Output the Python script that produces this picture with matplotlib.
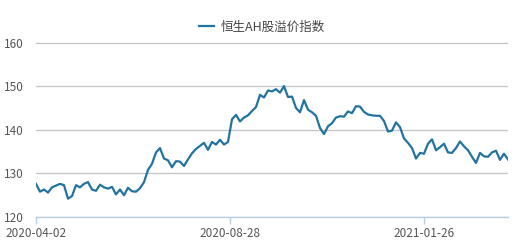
import numpy as np
import matplotlib
matplotlib.use("Agg")
import matplotlib.pyplot as plt

plt.rcParams['font.family'] = ['Noto Sans CJK SC', 'DejaVu Sans']

SERIES_NAME = "恒生AH股溢价指数"
TICK_LABELS = ["2020-04-02", "2020-08-28", "2021-01-26"]
TICK_DAYS = [0, 97, 194]
DAYS_PER_POINT = 2

# index readings, one every second trading day from 2020-04-02
premium = [
    127.6, 125.8, 126.3, 125.6, 126.8, 127.2, 127.6, 127.3, 124.2, 124.8,
    127.3, 126.8, 127.6, 128.0, 126.3, 126.0, 127.4, 126.8, 126.5, 126.9,
    125.2, 126.3, 125.0, 126.7, 125.9, 125.8, 126.6, 128.0, 130.8, 132.2,
    134.8, 135.8, 133.4, 133.0, 131.4, 132.8, 132.7, 131.7, 133.2, 134.6,
    135.6, 136.3, 137.0, 135.4, 137.2, 136.6, 137.7, 136.6, 137.2, 142.4,
    143.4, 141.9, 142.8, 143.3, 144.3, 145.2, 148.0, 147.4, 149.0, 148.8,
    149.3, 148.5, 150.0, 147.5, 147.6, 145.0, 144.0, 146.8, 144.6, 144.0,
    143.2, 140.4, 139.0, 140.8, 141.5, 142.8, 143.1, 143.0, 144.2, 143.8,
    145.4, 145.3, 144.1, 143.5, 143.3, 143.2, 143.2, 142.0, 139.6, 139.8,
    141.7, 140.6, 138.0, 137.0, 135.8, 133.4, 134.7, 134.5, 136.8, 137.8,
    135.3, 136.0, 136.8, 134.8, 134.7, 135.8, 137.3, 136.2, 135.3, 133.8,
    132.4, 134.7, 133.9, 133.8, 134.8, 135.2, 133.1, 134.5, 133.2,
]

days = np.arange(len(premium)) * DAYS_PER_POINT

fig = plt.figure(figsize=(5.23, 2.43), dpi=100)
ax = fig.add_axes([36 / 523, 1 - 217 / 243, 472 / 523, 174.5 / 243])

ax.plot(days, premium, color='#22739f', linewidth=1.6, label=SERIES_NAME)

ax.set_xlim(0, days[-1])
ax.set_ylim(120, 160)
ax.set_yticks([120, 130, 140, 150, 160])
ax.grid(axis='y', color='#c4c4c4', linewidth=0.9)
ax.set_axisbelow(True)

for side in ['top', 'right', 'left']:
    ax.spines[side].set_visible(False)
ax.spines['bottom'].set_color('#b9cde0')
ax.spines['bottom'].set_linewidth(1.0)

ax.set_xticks(TICK_DAYS)
ax.set_xticklabels(TICK_LABELS)
ax.tick_params(axis='x', colors='#b9cde0', length=5, width=1.0, pad=2,
               labelcolor='#555555', labelsize=8.5)
ax.tick_params(axis='y', length=0, pad=9, labelcolor='#555555', labelsize=8.5)

ax.legend(loc='center', bbox_to_anchor=(0.478, 1.089), frameon=False,
          fontsize=9, handlelength=1.2, handletextpad=0.55,
          labelcolor='#444444')

fig.savefig('out.png', dpi=100)
